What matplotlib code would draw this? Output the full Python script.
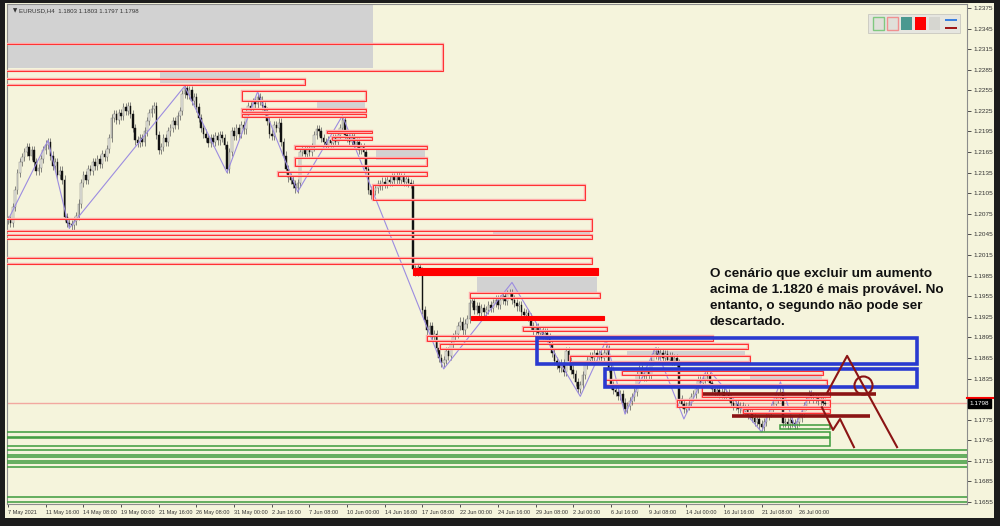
import numpy as np
import matplotlib.pyplot as plt
from matplotlib.patches import Rectangle

# EURUSD H4 closes, one per bar (7 May 2021 -> 28 Jul 2021)
closes = [
    1.2066, 1.2062, 1.2085, 1.2110, 1.2135, 1.2150, 1.2158, 1.2165, 1.2172, 1.2160,
    1.2168, 1.2150, 1.2138, 1.2142, 1.2155, 1.2168, 1.2176, 1.2180,
    1.2160, 1.2145, 1.2150, 1.2132, 1.2138, 1.2125, 1.2070, 1.2062, 1.2060,
    1.2058, 1.2065, 1.2072, 1.2090, 1.2120, 1.2132, 1.2125, 1.2140, 1.2138, 1.2150,
    1.2145, 1.2155, 1.2148, 1.2162, 1.2158, 1.2170, 1.2185, 1.2215, 1.2220, 1.2212,
    1.2222, 1.2218, 1.2230, 1.2225, 1.2232, 1.2220, 1.2200, 1.2182, 1.2178, 1.2185,
    1.2180, 1.2195, 1.2210, 1.2222, 1.2228, 1.2232, 1.2190, 1.2168, 1.2172, 1.2185,
    1.2180, 1.2195, 1.2200, 1.2210, 1.2205, 1.2218, 1.2225, 1.2250, 1.2258,
    1.2248, 1.2255, 1.2240, 1.2245, 1.2230, 1.2215, 1.2200, 1.2192, 1.2185, 1.2178,
    1.2186, 1.2180, 1.2188, 1.2182, 1.2190, 1.2185, 1.2175, 1.2140,
    1.2165, 1.2195, 1.2188, 1.2200, 1.2192, 1.2205, 1.2198, 1.2222, 1.2232, 1.2228,
    1.2238, 1.2235, 1.2245,
    1.2240, 1.2232, 1.2225, 1.2210, 1.2192, 1.2188, 1.2205, 1.2200, 1.2208, 1.2180,
    1.2160, 1.2140, 1.2128, 1.2125, 1.2118, 1.2112, 1.2120,
    1.2165, 1.2170, 1.2162, 1.2168, 1.2165, 1.2172, 1.2190, 1.2198, 1.2195, 1.2185,
    1.2180, 1.2175, 1.2182, 1.2178, 1.2185, 1.2180, 1.2190, 1.2200, 1.2212,
    1.2190, 1.2185, 1.2180, 1.2188, 1.2175, 1.2180, 1.2168, 1.2172, 1.2165, 1.2140,
    1.2110, 1.2102, 1.2108, 1.2112, 1.2118, 1.2115, 1.2122, 1.2118, 1.2125, 1.2122,
    1.2128, 1.2125, 1.2130, 1.2124, 1.2128, 1.2122, 1.2126, 1.2120, 1.2118, 1.1995,
    1.1990, 1.1998, 1.1992, 1.1935, 1.1920, 1.1905, 1.1912, 1.1895, 1.1900, 1.1880,
    1.1865, 1.1858, 1.1862,
    1.1875, 1.1868, 1.1885, 1.1895, 1.1900, 1.1912, 1.1918, 1.1905, 1.1915, 1.1922,
    1.1945, 1.1948, 1.1935, 1.1940, 1.1930, 1.1938, 1.1932, 1.1935, 1.1942, 1.1938,
    1.1945, 1.1950, 1.1942, 1.1950, 1.1955, 1.1948, 1.1958, 1.1960, 1.1950,
    1.1945, 1.1940, 1.1942, 1.1932, 1.1928, 1.1930, 1.1925, 1.1912, 1.1905, 1.1910,
    1.1902, 1.1905, 1.1898, 1.1902, 1.1895, 1.1885, 1.1872, 1.1860, 1.1855, 1.1850,
    1.1858, 1.1845, 1.1875, 1.1860, 1.1848, 1.1842, 1.1830, 1.1820, 1.1825,
    1.1840, 1.1855, 1.1862, 1.1868, 1.1865, 1.1872, 1.1868, 1.1870, 1.1865, 1.1872,
    1.1878,
    1.1850, 1.1825, 1.1818, 1.1815, 1.1810, 1.1812, 1.1800, 1.1790,
    1.1795, 1.1802, 1.1808, 1.1815, 1.1840, 1.1848, 1.1842, 1.1838, 1.1845, 1.1840,
    1.1860, 1.1870, 1.1875,
    1.1868, 1.1872, 1.1865, 1.1870, 1.1862, 1.1868, 1.1860, 1.1865, 1.1858, 1.1805,
    1.1798, 1.1790,
    1.1795, 1.1800, 1.1808, 1.1812, 1.1820, 1.1832, 1.1828, 1.1835, 1.1842, 1.1838,
    1.1828, 1.1820, 1.1815, 1.1818, 1.1812, 1.1815, 1.1810, 1.1813, 1.1808, 1.1800,
    1.1795, 1.1798, 1.1790, 1.1795, 1.1788, 1.1792, 1.1782, 1.1785, 1.1778, 1.1772,
    1.1776, 1.1768, 1.1765,
    1.1772, 1.1780, 1.1785, 1.1792, 1.1798, 1.1805, 1.1808, 1.1815,
    1.1770, 1.1772, 1.1768, 1.1775, 1.1770, 1.1768, 1.1772, 1.1778,
    1.1785, 1.1795, 1.1805, 1.1812, 1.1810, 1.1806, 1.1808, 1.1802, 1.1805, 1.1800,
    1.1798,
]

# zigzag pivots
zz_bar = [0, 17, 26, 75, 93, 106, 123, 142, 185, 214, 243, 254, 262, 275, 287, 297, 320, 328, 334, 341]
zz_price = [1.2066, 1.2182, 1.2054, 1.2261, 1.2135, 1.2253, 1.2107, 1.2218, 1.1849, 1.1975,
            1.1809, 1.1891, 1.1783, 1.1880, 1.1776, 1.1850, 1.1757, 1.1830, 1.1765, 1.1816]

# zones: (start bar, end bar, top price, bottom price)
gray_zones = [(-2, 155, 1.2395, 1.2288), (64.5, 107, 1.2285, 1.2265), (131, 151.6, 1.2238, 1.2228),
              (156.3, 177, 1.2171, 1.2153), (206, 247, 1.2051, 1.2043), (199, 250, 1.1983, 1.1961),
              (262.8, 313, 1.1875, 1.1866), (315, 345.6, 1.1839, 1.1834)]
red_zones = [(-2, 184.7, 1.2323, 1.2283), (-2, 126, 1.2272, 1.2263), (99.4, 152, 1.2254, 1.2240),
             (99.4, 152, 1.2228, 1.2223), (99.4, 152, 1.2221, 1.2216), (135.5, 154.6, 1.2196, 1.2193),
             (137.6, 154.6, 1.2187, 1.2183), (121.9, 177.9, 1.2174, 1.2169), (121.9, 177.9, 1.2156, 1.2145),
             (114.6, 177.9, 1.2136, 1.2130), (155, 245, 1.2117, 1.2095), (-2, 248, 1.2068, 1.2050),
             (-2, 248, 1.2044, 1.2038), (-2, 248, 1.2011, 1.2002), (196.2, 251.4, 1.1960, 1.1952),
             (218.7, 254.4, 1.1910, 1.1904), (177.9, 299.4, 1.1897, 1.1890), (183.4, 314.2, 1.1885, 1.1878),
             (238.6, 315.1, 1.1868, 1.1859), (260.7, 346.1, 1.1846, 1.1840), (253.5, 347.8, 1.1833, 1.1826),
             (294.7, 349, 1.1823, 1.1808), (284.1, 349, 1.1804, 1.1793), (312.1, 349, 1.1791, 1.1785)]
solid_red = [(172, 250.5, 1.1996, 1.1986), (196.6, 253.1, 1.1926, 1.1920)]
blue_zones = [(224.6, 386, 1.1894, 1.1856), (253.5, 386, 1.1849, 1.1823)]
green_zones = [(327.8, 349, 1.1767, 1.1761), (-2, 349, 1.1757, 1.1750), (-2, 349, 1.1748, 1.1737),
               (-2, 410, 1.1731, 1.1724), (-2, 410, 1.1721, 1.1715), (-2, 410, 1.1712, 1.1706),
               (-2, 410, 1.1662, 1.1655)]

# levels and projections
maroon_levels = [(295, 368.6, 1.1812), (307.4, 366, 1.1780)]
proj_a_bar = [347.8, 356.3, 377.5]
proj_a_price = [1.1814, 1.1868, 1.1735]
proj_b_bar = [345.6, 350.3, 353.3, 359.2]
proj_b_price = [1.1793, 1.1760, 1.1776, 1.1735]
circle_bar, circle_price = 363, 1.1826
bid_line = 1.1800
last_price = 1.1798

tick_labels = ['7 May 2021', '11 May 16:00', '14 May 08:00', '19 May 00:00', '21 May 16:00',
               '26 May 08:00', '31 May 00:00', '2 Jun 16:00', '7 Jun 08:00', '10 Jun 00:00',
               '14 Jun 16:00', '17 Jun 08:00', '22 Jun 00:00', '24 Jun 16:00', '29 Jun 08:00',
               '2 Jul 00:00', '6 Jul 16:00', '9 Jul 08:00', '14 Jul 00:00', '16 Jul 16:00',
               '21 Jul 08:00', '26 Jul 00:00']

BG = '#f5f4dc'
fig = plt.figure(figsize=(10, 5.26), dpi=100, facecolor='#1c1c1c')
fig.add_artist(Rectangle((0.005, 8 / 526), 0.989, 515 / 526, transform=fig.transFigure,
                         facecolor=BG, edgecolor='none', zorder=0))
ax = fig.add_axes([0.007, 22 / 526, 0.96, 500 / 526])
ax.set_facecolor(BG)

# zones
for x0, x1, top, bot in gray_zones:
    ax.add_patch(Rectangle((x0, bot), x1 - x0, top - bot, facecolor='#d2d2d2', edgecolor='none', zorder=1))
for x0, x1, top, bot in red_zones:
    ax.add_patch(Rectangle((x0, bot), x1 - x0, top - bot, facecolor='none', edgecolor='#ffa8a8', lw=1.7, zorder=3))
    ax.add_patch(Rectangle((x0, bot), x1 - x0, top - bot, facecolor='none', edgecolor='#ff3030', lw=0.7, zorder=3))
for x0, x1, top, bot in solid_red:
    ax.add_patch(Rectangle((x0, bot), x1 - x0, top - bot, facecolor='#ff0000', edgecolor='#ff0000', lw=0.8, zorder=3))
for x0, x1, top, bot in green_zones:
    ax.add_patch(Rectangle((x0, bot), x1 - x0, top - bot, facecolor='none', edgecolor='#3c9a3c', lw=1.1, zorder=3))
for x0, x1, top, bot in blue_zones:
    ax.add_patch(Rectangle((x0, bot), x1 - x0, top - bot, facecolor='none', edgecolor='#2a3ad0', lw=2.6, zorder=4))

ax.axhline(bid_line, color='#f2a8a0', lw=1.0, zorder=1.5)

# candles
c = np.array(closes)
o = np.concatenate([[c[0]], c[:-1]])
idx = np.arange(len(c))
hi = np.maximum(o, c) + 0.0006
lo = np.minimum(o, c) - 0.0006
ax.vlines(idx, lo, hi, color='#585858', lw=0.5, zorder=2)
up = c >= o
body = np.maximum(np.abs(c - o), 0.00012)
ax.bar(idx[up], body[up], bottom=np.minimum(o, c)[up], width=0.7, color='#ecece4',
       edgecolor='#707070', linewidth=0.3, zorder=2.1)
ax.bar(idx[~up], body[~up], bottom=np.minimum(o, c)[~up], width=0.7, color='#111111',
       edgecolor='#111111', linewidth=0.3, zorder=2.1)

# zigzag
ax.plot(zz_bar, zz_price, color='#9c8ce0', lw=0.8, zorder=2.5)

# projections
for x0, x1, y in maroon_levels:
    ax.plot([x0, x1], [y, y], color='#8b1414', lw=2.6, zorder=5, solid_capstyle='butt')
ax.plot(proj_a_bar, proj_a_price, color='#8b1414', lw=1.5, zorder=5)
ax.plot(proj_b_bar, proj_b_price, color='#8b1414', lw=1.5, zorder=5)
ax.plot([circle_bar], [circle_price], 'o', ms=13, mfc='none', mec='#8b1414', mew=1.5, zorder=5)

# axes
ax.set_xlim(-0.42, 407.2)
ax.set_ylim(1.16521, 1.23808)
for s in ax.spines.values():
    s.set_color('#8c8c8c')
    s.set_linewidth(0.8)
ax.yaxis.tick_right()
yt = np.round(np.arange(1.1655, 1.2376, 0.003), 4)
ax.set_yticks(yt)
ax.set_yticklabels(['' if abs(v - 1.1805) < 1e-6 else f'{v:.4f}' for v in yt],
                   family='Liberation Sans')
ax.tick_params(axis='y', labelsize=4.6, length=3, pad=2, colors='#333333', width=0.6)
ax.set_xticks(range(0, 16 * len(tick_labels), 16))
ax.set_xticklabels(tick_labels, ha='left', family='Liberation Sans')
ax.tick_params(axis='x', labelsize=4.0, length=2, pad=2, colors='#333333', width=0.6)

# current price label
ax.text(1.003, last_price, '1.1798', transform=ax.get_yaxis_transform(), fontsize=4.6,
        family='Liberation Sans', color='white', va='center', ha='left', zorder=10, clip_on=False,
        bbox=dict(boxstyle='square,pad=0.3', fc='black', ec='black'))
ax.plot([1.0, 1.027], [1.1806, 1.1806], transform=ax.get_yaxis_transform(), color='#ff0000',
        lw=1.5, clip_on=False, zorder=9)

# header
fig.text(0.013, 1 - 11 / 526, '\u25bc', fontsize=4, color='#333333', va='center')
fig.text(0.019, 1 - 11 / 526, 'EURUSD,H4  1.1803 1.1803 1.1797 1.1798', fontsize=4.4,
         family='Liberation Sans', color='#333333', va='center')

# toolbar icons top right
def px(x, y, w, h, **kw):
    fig.add_artist(Rectangle((x / 1000, 1 - (y + h) / 526), w / 1000, h / 526,
                             transform=fig.transFigure, **kw))
px(868, 14, 92, 19, facecolor='#e6e6e0', edgecolor='#c8c8c0', lw=0.6)
px(873, 17, 11, 13, facecolor='#e0e0da', edgecolor='#80c880', lw=1)
px(887, 17, 11, 13, facecolor='#e0e0da', edgecolor='#f09090', lw=1)
px(901, 17, 11, 13, facecolor='#4b9890', edgecolor='none')
px(915, 17, 11, 13, facecolor='#ff0000', edgecolor='none')
px(929, 17, 11, 13, facecolor='#d6d6d0', edgecolor='none')
px(945, 19, 12, 2, facecolor='#3a80e0', edgecolor='none')
px(945, 27, 12, 2, facecolor='#a01818', edgecolor='none')

# annotation
fig.text(0.710, 1 - 268 / 526,
         'O cenário que excluir um aumento\nacima de 1.1820 é mais provável. No\n'
         'entanto, o segundo não pode ser\ndescartado.',
         fontsize=9.7, fontweight='bold', family='Liberation Sans', color='#111111',
         va='top', ha='left', linespacing=1.46)

fig.savefig('out.png', dpi=100, facecolor=fig.get_facecolor())
